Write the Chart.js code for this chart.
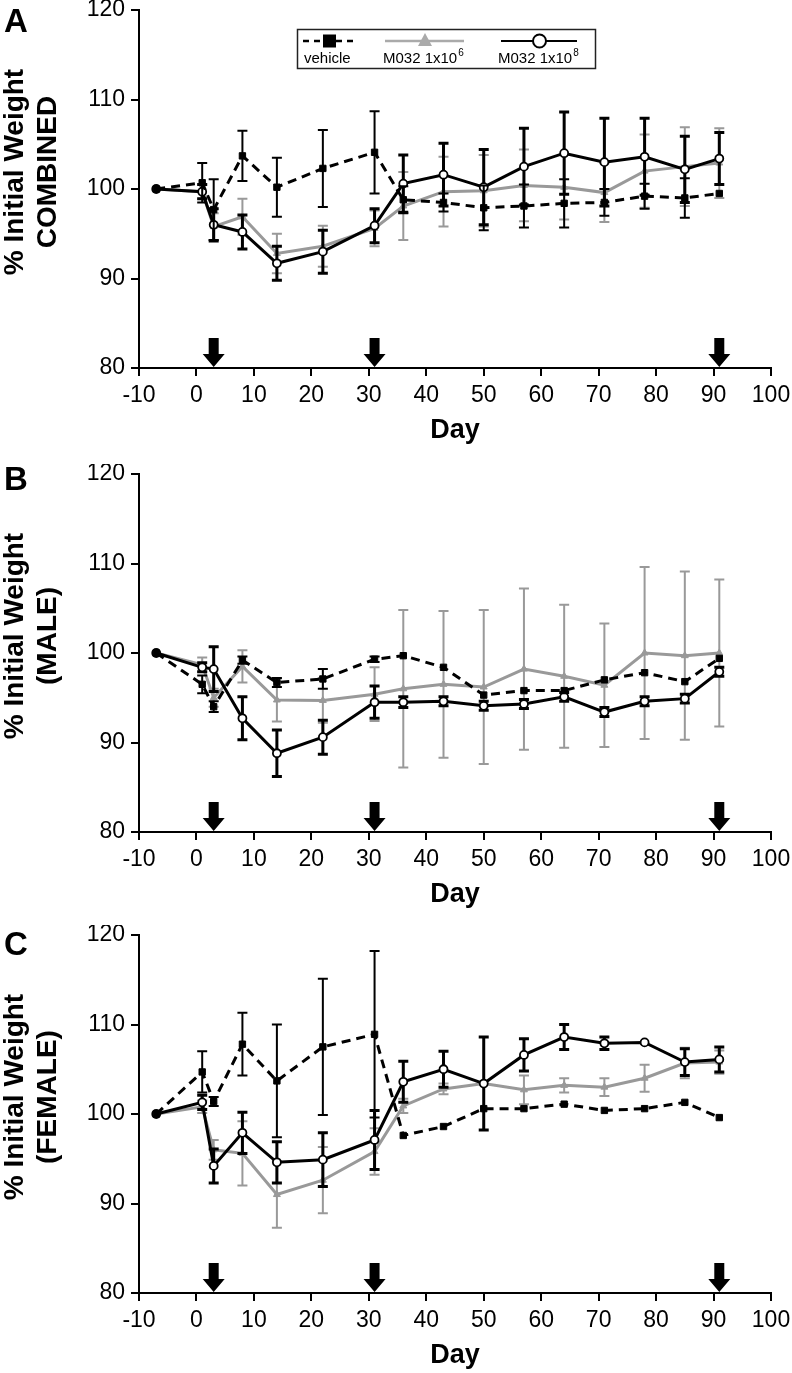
<!DOCTYPE html>
<html>
<head>
<meta charset="utf-8">
<script src="https://cdn.jsdelivr.net/npm/chart.js@4.4.1/dist/chart.umd.min.js"></script>
<style>
    html, body { margin: 0; padding: 0; background: #fff; }
    #wrap { position: relative; width: 792px; height: 1373px; }
    canvas { position: absolute; left: 0; }
</style>
</head>
<body>
<div id="wrap">
    <canvas id="chartA" width="792" height="448" style="top:0px"></canvas>
    <canvas id="chartB" width="792" height="448" style="top:464px"></canvas>
    <canvas id="chartC" width="792" height="448" style="top:925px"></canvas>
</div>
<script>
// Study days (x axis) and dosing days (arrows)
const days = [-7, 1, 3, 8, 14, 22, 31, 36, 43, 50, 57, 64, 71, 78, 85, 91];
const doseDays = [3, 31, 91];
const xTicks = { min: -10, max: 100, step: 10 };
const yTicks = { min: 80, max: 120, step: 10 };
const seriesNames = ['vehicle', 'M032 1x10', 'M032 1x10'];
const seriesExp = ['', '6', '8'];

// A - combined
const vehA = [100, 100.7, 97.7, 103.7, 100.2, 102.3, 104.1, 98.8, 98.5, 97.9, 98.1, 98.4, 98.5, 99.2, 99.0, 99.5];
const vehErrA = [0, 2.2, 3.4, 2.8, 3.3, 4.3, 4.6, 1.5, 1.0, 2.5, 2.4, 2.7, 1.5, 1.4, 2.2, 0];
const lowA = [100, 99.7, 95.8, 96.9, 92.8, 93.6, 95.6, 98.1, 99.7, 99.8, 100.4, 100.2, 99.6, 102.0, 102.5, 102.9];
const lowErrA = [0, 0.8, 1.5, 2.0, 2.2, 2.3, 2.0, 3.8, 3.9, 4.0, 4.0, 3.6, 3.3, 4.1, 4.4, 3.9];
const highA = [100, 99.7, 96.0, 95.2, 91.7, 93.0, 95.9, 100.6, 101.6, 100.2, 102.5, 104.0, 103.0, 103.6, 102.2, 103.4];
const highErrA = [0, 0.8, 1.8, 1.9, 1.9, 2.4, 1.9, 3.2, 3.5, 4.2, 4.3, 4.6, 4.9, 4.3, 3.7, 2.9];

// B - male
const vehB = [100, 96.5, 94.0, 99.2, 96.7, 97.1, 99.3, 99.7, 98.4, 95.3, 95.8, 95.8, 97.0, 97.8, 96.8, 99.4];
const vehErrB = [0, 1.0, 0.6, 0.4, 0.5, 1.1, 0.3, 0, 0, 0, 0, 0, 0, 0, 0, 0];
const lowB = [100, 98.7, 95.0, 98.5, 94.75, 94.7, 95.4, 96.0, 96.5, 96.2, 98.2, 97.4, 96.4, 100.0, 99.7, 100.0];
const lowErrB = [0, 0.8, 1.0, 1.8, 2.4, 2.5, 3.0, 8.8, 8.2, 8.6, 9.0, 8.0, 6.9, 9.6, 9.4, 8.2];
const highB = [100, 98.4, 98.2, 92.7, 88.8, 90.6, 94.5, 94.5, 94.6, 94.1, 94.3, 95.1, 93.4, 94.6, 94.9, 97.9];
const highErrB = [0, 0.5, 2.5, 2.4, 2.6, 1.9, 1.8, 0.6, 0.5, 0.5, 0.5, 0.5, 0.5, 0.5, 0.5, 0.5];

// C - female
const vehC = [100, 104.7, 101.4, 107.8, 103.7, 107.5, 108.9, 97.6, 98.6, 100.6, 100.6, 101.1, 100.4, 100.6, 101.3, 99.6];
const vehErrC = [0, 2.3, 0.5, 3.5, 6.3, 7.6, 9.3, 0, 0, 0, 0, 0, 0, 0, 0, 0];
const lowC = [100, 100.8, 96.0, 95.6, 91.0, 92.6, 95.8, 100.9, 102.8, 103.4, 102.7, 103.2, 103.0, 104.0, 105.7, 105.8];
const lowErrC = [0, 0.7, 1.1, 3.6, 3.7, 3.7, 2.6, 0.8, 0.6, 0, 1.6, 0.8, 1.0, 1.5, 1.7, 1.3];
const highC = [100, 101.3, 94.2, 97.9, 94.6, 94.9, 97.1, 103.6, 105.0, 103.4, 106.6, 108.6, 107.9, 108.0, 105.8, 106.1];
const highErrC = [0, 0.8, 1.9, 2.3, 2.3, 3.0, 3.3, 2.3, 2.0, 5.2, 1.8, 1.4, 0.7, 0, 1.5, 1.4];

const FONT = "'Liberation Sans', Arial, Helvetica, sans-serif";
const GREY = '#999999';

Chart.defaults.font.family = FONT;
Chart.defaults.color = '#000';

function toPoints(values) {
    return days.map((d, i) => ({ x: d, y: values[i] }));
}

// error bars drawn just before each dataset so the line sits on top
const errorBarPlugin = {
    id: 'errorBars',
    beforeDatasetDraw(chart, args) {
        const ds = chart.data.datasets[args.index];
        if (!ds.errors) return;
        const yScale = chart.scales.y;
        const ctx = chart.ctx;
        ctx.save();
        ctx.strokeStyle = ds.errColor;
        ctx.lineWidth = ds.errWidth;
        args.meta.data.forEach((pt, i) => {
            const e = ds.errors[i];
            if (!e) return;
            const v = ds.data[i].y;
            const top = yScale.getPixelForValue(v + e);
            const bot = yScale.getPixelForValue(v - e);
            ctx.beginPath();
            ctx.moveTo(pt.x, top); ctx.lineTo(pt.x, bot);
            ctx.moveTo(pt.x - 5, top); ctx.lineTo(pt.x + 5, top);
            ctx.moveTo(pt.x - 5, bot); ctx.lineTo(pt.x + 5, bot);
            ctx.stroke();
        });
        ctx.restore();
    }
};

// dosing arrows sitting on the x axis
const arrowPlugin = {
    id: 'doseArrows',
    afterDraw(chart) {
        const ctx = chart.ctx;
        const base = chart.chartArea.bottom - 1;
        ctx.save();
        ctx.fillStyle = '#000';
        doseDays.forEach(d => {
            const x = chart.scales.x.getPixelForValue(d);
            ctx.beginPath();
            ctx.moveTo(x - 5, base - 29);
            ctx.lineTo(x + 5, base - 29);
            ctx.lineTo(x + 5, base - 13);
            ctx.lineTo(x + 11, base - 13);
            ctx.lineTo(x, base);
            ctx.lineTo(x - 11, base - 13);
            ctx.lineTo(x - 5, base - 13);
            ctx.closePath();
            ctx.fill();
        });
        ctx.restore();
    }
};

// panel letter, two-line y title and "Day"
const panelTextPlugin = {
    id: 'panelText',
    afterDraw(chart, args, opts) {
        const ctx = chart.ctx;
        const area = chart.chartArea;
        ctx.save();
        ctx.fillStyle = '#000';
        ctx.font = 'bold 33px ' + FONT;
        ctx.textAlign = 'left';
        ctx.textBaseline = 'alphabetic';
        ctx.fillText(opts.letter, 4, area.top + opts.letterDy);

        const cy = (area.top + area.bottom) / 2 - 17;
        ctx.font = 'bold 28px ' + FONT;
        ctx.textAlign = 'center';
        ctx.textBaseline = 'middle';
        [[opts.line1, 15], [opts.line2, 48]].forEach(([txt, x]) => {
            ctx.save();
            ctx.translate(x, cy);
            ctx.rotate(-Math.PI / 2);
            ctx.fillText(txt, 0, 0);
            ctx.restore();
        });

        ctx.font = 'bold 27px ' + FONT;
        ctx.textBaseline = 'alphabetic';
        ctx.fillText('Day', (area.left + area.right) / 2, area.bottom + 70);
        ctx.restore();
    }
};

// boxed legend, only on panel A
const legendBoxPlugin = {
    id: 'legendBox',
    afterDraw(chart, args, opts) {
        if (!opts.show) return;
        const ctx = chart.ctx;
        const lineY = 41, textY = 63;
        ctx.save();
        ctx.strokeStyle = '#222';
        ctx.lineWidth = 1.5;
        ctx.strokeRect(297.5, 29.5, 298, 39);

        // vehicle
        ctx.strokeStyle = '#000';
        ctx.lineWidth = 2.5;
        ctx.setLineDash([6, 5]);
        ctx.beginPath(); ctx.moveTo(303, lineY); ctx.lineTo(353, lineY); ctx.stroke();
        ctx.setLineDash([]);
        ctx.fillStyle = '#000';
        ctx.fillRect(323, lineY - 6.5, 13, 13);

        // low dose
        ctx.strokeStyle = '#aaa';
        ctx.lineWidth = 2.5;
        ctx.beginPath(); ctx.moveTo(385, lineY); ctx.lineTo(464, lineY); ctx.stroke();
        ctx.fillStyle = '#aaa';
        ctx.beginPath();
        ctx.moveTo(425, lineY - 8); ctx.lineTo(432, lineY + 5); ctx.lineTo(418, lineY + 5);
        ctx.closePath(); ctx.fill();

        // high dose
        ctx.strokeStyle = '#000';
        ctx.lineWidth = 2;
        ctx.beginPath(); ctx.moveTo(501, lineY); ctx.lineTo(577, lineY); ctx.stroke();
        ctx.fillStyle = '#fff';
        ctx.beginPath(); ctx.arc(539.5, lineY, 6.5, 0, Math.PI * 2); ctx.fill(); ctx.stroke();

        const textX = [304, 383, 498];
        ctx.fillStyle = '#000';
        ctx.textAlign = 'left';
        seriesNames.forEach((name, i) => {
            ctx.font = '15px ' + FONT;
            ctx.fillText(name, textX[i], textY);
            if (seriesExp[i]) {
                const w = ctx.measureText(name).width;
                ctx.font = '10px ' + FONT;
                ctx.fillText(seriesExp[i], textX[i] + w + 1, textY - 7);
            }
        });
        ctx.restore();
    }
};

function makePanel(id, cfg) {
    const ctx = document.getElementById(id).getContext('2d');
    return new Chart(ctx, {
        type: 'line',
        data: {
            datasets: [
                {
                    label: 'vehicle',
                    data: toPoints(cfg.veh),
                    errors: cfg.vehErr, errColor: '#000', errWidth: 2,
                    borderColor: '#000', borderWidth: 3, borderDash: [9, 6],
                    pointStyle: 'rect', pointRadius: 4.5,
                    pointBackgroundColor: '#000', pointBorderColor: '#000', pointBorderWidth: 1,
                    tension: 0, fill: false
                },
                {
                    label: 'M032 1x10^8',
                    data: toPoints(cfg.high),
                    errors: cfg.highErr, errColor: '#000', errWidth: 3,
                    borderColor: '#000', borderWidth: 3,
                    pointStyle: 'circle', pointRadius: 4,
                    pointBackgroundColor: '#fff', pointBorderColor: '#000', pointBorderWidth: 1.8,
                    tension: 0, fill: false
                },
                {
                    label: 'M032 1x10^6',
                    data: toPoints(cfg.low),
                    errors: cfg.lowErr, errColor: GREY, errWidth: 2,
                    borderColor: GREY, borderWidth: 3,
                    pointStyle: 'triangle', pointRadius: 4,
                    pointBackgroundColor: GREY, pointBorderColor: GREY, pointBorderWidth: 1,
                    tension: 0, fill: false
                }
            ]
        },
        options: {
            responsive: false,
            animation: false,
            devicePixelRatio: 1,
            layout: { padding: { top: 10, right: 21, left: 0, bottom: 0 } },
            plugins: {
                legend: { display: false },
                tooltip: { enabled: false },
                panelText: { letter: cfg.letter, letterDy: cfg.letterDy, line1: '% Initial Weight', line2: cfg.group },
                legendBox: { show: !!cfg.legend }
            },
            scales: {
                x: {
                    type: 'linear',
                    min: xTicks.min, max: xTicks.max,
                    ticks: { stepSize: xTicks.step, color: '#000', font: { size: 23 }, padding: 6, maxRotation: 0, autoSkip: false },
                    grid: { drawOnChartArea: false, tickLength: 8, color: '#000', lineWidth: 2 },
                    border: { color: '#000', width: 2 },
                    afterFit: s => { s.height = 80; s.paddingLeft = 0; s.paddingRight = 0; }
                },
                y: {
                    min: yTicks.min, max: yTicks.max,
                    ticks: { stepSize: yTicks.step, color: '#000', font: { size: 23 }, padding: 6 },
                    grid: { drawOnChartArea: false, tickLength: 8, color: '#000', lineWidth: 2 },
                    border: { color: '#000', width: 2 },
                    afterFit: s => { s.width = 139; s.paddingTop = 0; s.paddingBottom = 0; }
                }
            }
        },
        plugins: [errorBarPlugin, arrowPlugin, panelTextPlugin, legendBoxPlugin]
    });
}

makePanel('chartA', { letter: 'A', letterDy: 22, group: 'COMBINED', legend: true,
    veh: vehA, vehErr: vehErrA, low: lowA, lowErr: lowErrA, high: highA, highErr: highErrA });
makePanel('chartB', { letter: 'B', letterDy: 16, group: '(MALE)',
    veh: vehB, vehErr: vehErrB, low: lowB, lowErr: lowErrB, high: highB, highErr: highErrB });
makePanel('chartC', { letter: 'C', letterDy: 20, group: '(FEMALE)',
    veh: vehC, vehErr: vehErrC, low: lowC, lowErr: lowErrC, high: highC, highErr: highErrC });
</script>
</body>
</html>
